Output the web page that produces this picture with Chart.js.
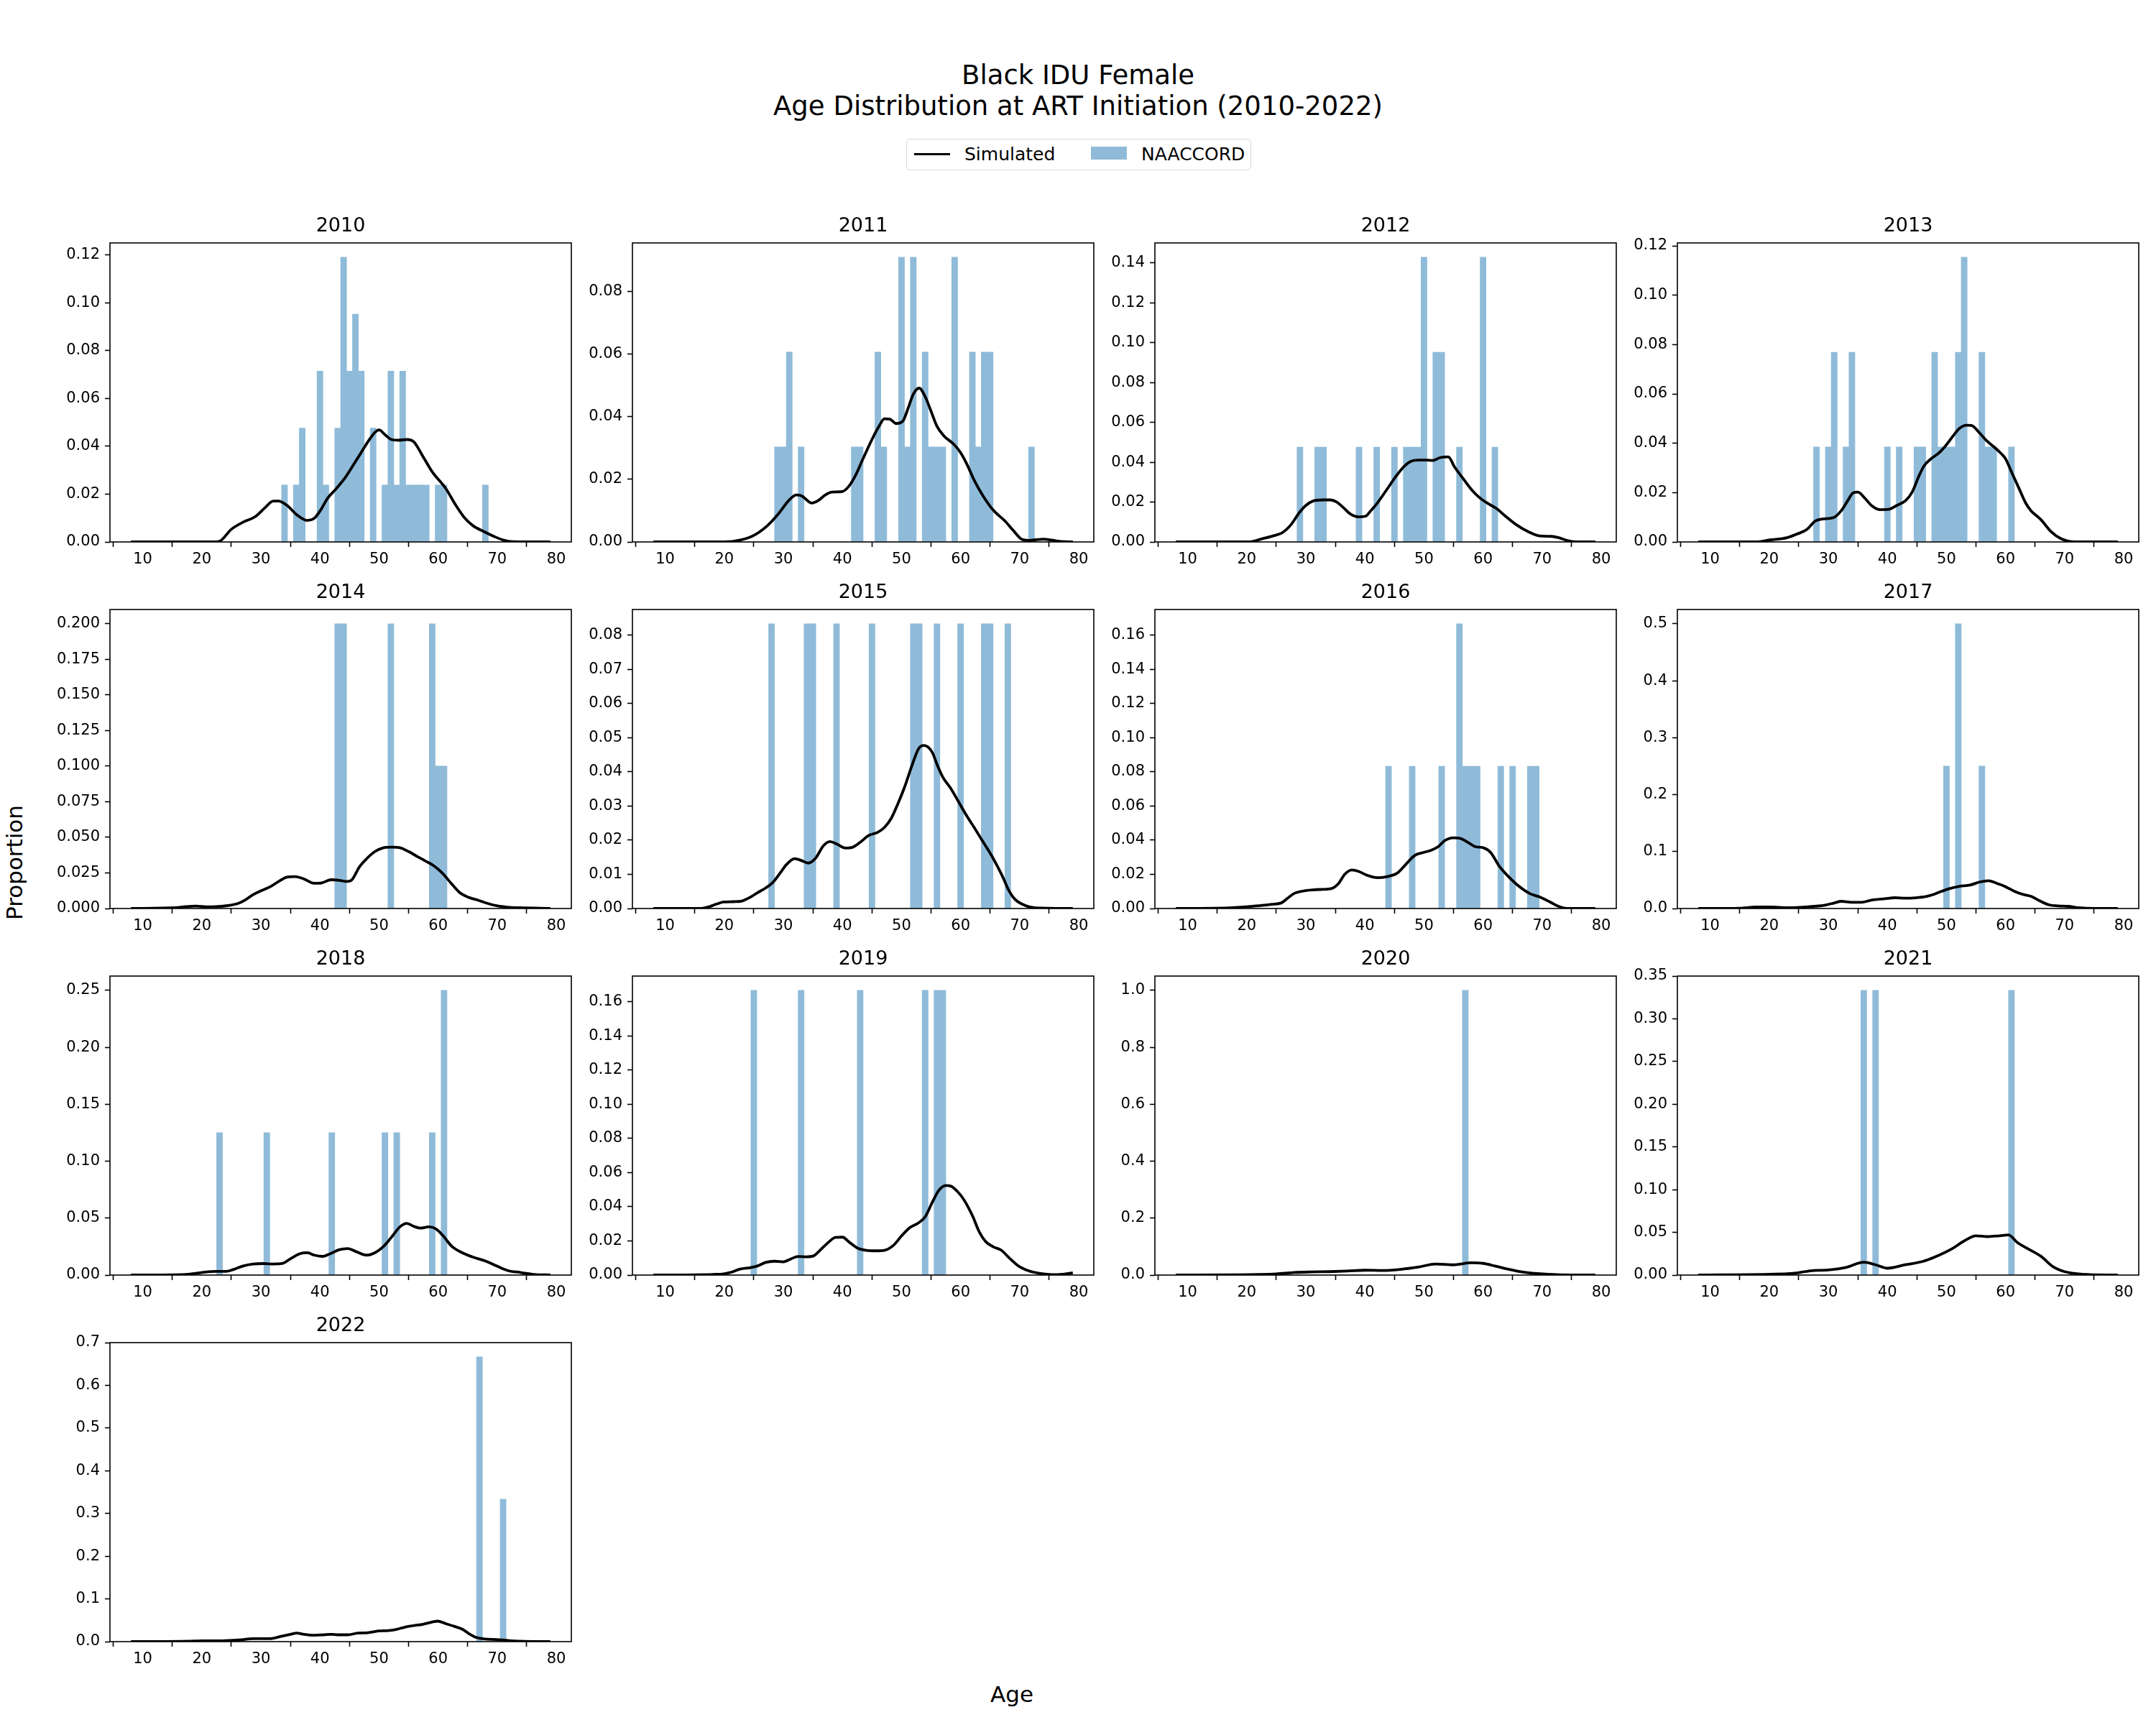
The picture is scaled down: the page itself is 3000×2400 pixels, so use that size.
<!DOCTYPE html>
<html>
<head>
<meta charset="utf-8">
<script src="https://cdn.jsdelivr.net/npm/chart.js@4.4.1/dist/chart.umd.min.js"></script>
<style>
  body { margin: 0; background: #fff; }
  #fig {
    position: relative; width: 3000px; height: 2400px; background: #fff;
    font-family: "DejaVu Sans", sans-serif; color: #000; overflow: hidden;
  }
  #fig canvas { position: absolute; }
  .suptitle {
    position: absolute; left: 0; top: 83px; width: 3000px;
    text-align: center; font-size: 37px; line-height: 43px;
  }
  .legend {
    position: absolute; left: 1261px; top: 193px; width: 480px; height: 44px;
    box-sizing: border-box; border: 1.5px solid #d6d6d6; border-radius: 5px;
    font-size: 25px;
  }
  .legend .item { position: absolute; }
  .legend .txt { top: 0; line-height: 42px; white-space: nowrap; }
  .suplabel { position: absolute; font-size: 31px; white-space: nowrap; }
</style>
</head>
<body>
<div id="fig">
  <div class="suptitle">Black IDU Female<br>Age Distribution at ART Initiation (2010-2022)</div>
  <div class="legend">
    <div class="item" style="left:10px; top:18.5px; width:50px; height:3.6px; background:#000"></div>
    <div class="item txt" style="left:80px">Simulated</div>
    <div class="item" style="left:256px; top:10px; width:50px; height:18px; background:#8fbbd9"></div>
    <div class="item txt" style="left:326px">NAACCORD</div>
  </div>
  <div class="suplabel" style="left:20px; top:1200px; transform: translate(-50%,-50%) rotate(-90deg)">Proportion</div>
  <div class="suplabel" style="left:1408px; top:2357px; transform: translate(-50%,-50%)">Age</div>
</div>
<script>
// ---- data ----
const years = [2010, 2011, 2012, 2013, 2014, 2015, 2016, 2017, 2018, 2019, 2020, 2021, 2022];

// NAACCORD histogram: [age, proportion]
const naa2010 = [[34, 0.0238], [36, 0.0238], [37, 0.0476], [40, 0.0714], [41, 0.0238], [43, 0.0476], [44, 0.119], [45, 0.0714], [46, 0.0952], [47, 0.0714], [49, 0.0476], [51, 0.0238], [52, 0.0714], [53, 0.0238], [54, 0.0714], [55, 0.0238], [56, 0.0238], [57, 0.0238], [58, 0.0238], [60, 0.0238], [61, 0.0238], [68, 0.0238]];
const naa2011 = [[29, 0.0303], [30, 0.0303], [31, 0.0606], [33, 0.0303], [42, 0.0303], [43, 0.0303], [46, 0.0606], [47, 0.0303], [50, 0.0909], [51, 0.0303], [52, 0.0909], [54, 0.0606], [55, 0.0303], [56, 0.0303], [57, 0.0303], [59, 0.0909], [62, 0.0606], [63, 0.0303], [64, 0.0606], [65, 0.0606], [72, 0.0303]];
const naa2012 = [[29, 0.0476], [32, 0.0476], [33, 0.0476], [39, 0.0476], [42, 0.0476], [45, 0.0476], [47, 0.0476], [48, 0.0476], [49, 0.0476], [50, 0.1429], [52, 0.0952], [53, 0.0952], [56, 0.0476], [60, 0.1429], [62, 0.0476]];
const naa2013 = [[28, 0.0385], [30, 0.0385], [31, 0.0769], [33, 0.0385], [34, 0.0769], [40, 0.0385], [42, 0.0385], [45, 0.0385], [46, 0.0385], [48, 0.0769], [49, 0.0385], [50, 0.0385], [51, 0.0385], [52, 0.0769], [53, 0.1154], [56, 0.0769], [57, 0.0385], [58, 0.0385], [61, 0.0385]];
const naa2014 = [[43, 0.2], [44, 0.2], [52, 0.2], [59, 0.2], [60, 0.1], [61, 0.1]];
const naa2015 = [[28, 0.0833], [34, 0.0833], [35, 0.0833], [39, 0.0833], [45, 0.0833], [52, 0.0833], [53, 0.0833], [56, 0.0833], [60, 0.0833], [64, 0.0833], [65, 0.0833], [68, 0.0833]];
const naa2016 = [[44, 0.0833], [48, 0.0833], [53, 0.0833], [56, 0.1667], [57, 0.0833], [58, 0.0833], [59, 0.0833], [63, 0.0833], [65, 0.0833], [68, 0.0833], [69, 0.0833]];
const naa2017 = [[50, 0.25], [52, 0.5], [56, 0.25]];
const naa2018 = [[23, 0.125], [31, 0.125], [42, 0.125], [51, 0.125], [53, 0.125], [59, 0.125], [61, 0.25]];
const naa2019 = [[25, 0.1667], [33, 0.1667], [43, 0.1667], [54, 0.1667], [56, 0.1667], [57, 0.1667]];
const naa2020 = [[57, 1.0]];
const naa2021 = [[36, 0.3333], [38, 0.3333], [61, 0.3333]];
const naa2022 = [[67, 0.6667], [71, 0.3333]];

// Simulated density curve: [age, density]
const sim2010 = [[8, 0], [22, 0], [23, 0.0003], [25, 0.0053], [27, 0.0083], [29, 0.0105], [30.7, 0.0143], [32.1, 0.0171], [33, 0.0171], [34.4, 0.0153], [36.1, 0.0113], [37.8, 0.009], [39, 0.0098], [40.1, 0.0133], [41.3, 0.0183], [42.4, 0.0213], [44.1, 0.0263], [45.3, 0.0308], [46.7, 0.0363], [48.1, 0.0418], [49.3, 0.0458], [50, 0.0468], [51, 0.0448], [52.1, 0.0428], [53.3, 0.0425], [54.7, 0.0428], [55.9, 0.0418], [57.3, 0.0363], [59, 0.0293], [61.3, 0.0223], [63, 0.0153], [64.4, 0.0103], [65.9, 0.0068], [67.6, 0.0045], [69.3, 0.0025], [71, 0.0008], [72.7, 0.0001], [79, 0]];
const sim2011 = [[8, 0], [20, 0], [22.7, 0.0006], [25, 0.0021], [27.3, 0.0052], [29, 0.0086], [31.1, 0.0136], [32.2, 0.015], [33.1, 0.0147], [34.8, 0.0124], [35.9, 0.0132], [37.1, 0.015], [38.2, 0.0159], [40, 0.0161], [41.1, 0.0178], [42.2, 0.0212], [43.4, 0.0262], [45.1, 0.0331], [46.3, 0.0373], [47.1, 0.0393], [48, 0.0392], [49.1, 0.0378], [50.2, 0.0385], [51.1, 0.0426], [52, 0.0472], [53, 0.0491], [54, 0.0464], [55.2, 0.0407], [56, 0.0369], [57.2, 0.0338], [58.9, 0.0311], [60, 0.0285], [61.2, 0.0243], [62.3, 0.0197], [63.8, 0.0147], [65.5, 0.0102], [67.5, 0.0067], [68.9, 0.0037], [70.4, 0.0008], [71.5, 0.0005], [74.1, 0.0009], [76.7, 0.0002], [79, 0]];
const sim2012 = [[8, 0], [20.3, 0], [22.6, 0.0016], [24.9, 0.0034], [26, 0.0046], [27.5, 0.0087], [28.9, 0.0147], [30, 0.0183], [31.2, 0.0205], [32.9, 0.0211], [34.1, 0.0211], [35.2, 0.0201], [36.4, 0.0171], [37.5, 0.0141], [38.9, 0.0126], [40.1, 0.0129], [40.9, 0.0153], [42.1, 0.0195], [43.8, 0.0267], [45.2, 0.0327], [46.7, 0.0381], [47.8, 0.0405], [49, 0.0411], [50.4, 0.0411], [51.5, 0.0409], [52.7, 0.0423], [54.1, 0.0427], [55.2, 0.0375], [56.7, 0.0315], [58.1, 0.0261], [59.3, 0.0225], [60.7, 0.0195], [62.4, 0.0165], [63.8, 0.0129], [65.6, 0.0087], [67.6, 0.0052], [69.6, 0.003], [71.6, 0.0028], [72.7, 0.0022], [74.4, 0.0006], [75.9, 0], [79, 0]];
const sim2013 = [[8, 0], [17.8, 0], [20.1, 0.0008], [23, 0.0017], [24.7, 0.0032], [26.4, 0.0051], [27.8, 0.0085], [29, 0.0093], [31, 0.01], [32.2, 0.0127], [33.3, 0.0168], [34.2, 0.0199], [35, 0.0202], [36.2, 0.0177], [37.3, 0.0148], [38.7, 0.0131], [40.2, 0.0132], [41.6, 0.0148], [43.1, 0.0168], [44.2, 0.0202], [45.3, 0.0265], [46.2, 0.0308], [47.4, 0.0337], [48.8, 0.0362], [49.9, 0.0391], [51.1, 0.0429], [52.2, 0.046], [53.4, 0.0473], [54.2, 0.0472], [55.7, 0.0439], [56.8, 0.041], [58, 0.0386], [59.1, 0.0362], [60, 0.0337], [61.1, 0.0279], [62.3, 0.0216], [63.4, 0.0158], [64.3, 0.0127], [66, 0.009], [67.7, 0.0042], [69.4, 0.0013], [71.7, 0], [79, 0]];
const sim2014 = [[8, 0], [15.5, 0.0005], [17.3, 0.0013], [19, 0.0017], [20.7, 0.0012], [22.4, 0.0013], [24.7, 0.0022], [26.1, 0.0035], [27.3, 0.0059], [28.7, 0.0098], [30.1, 0.0126], [31.6, 0.0153], [33, 0.019], [34.4, 0.022], [35.8, 0.0224], [37.3, 0.0207], [39, 0.0177], [40.1, 0.0178], [41.9, 0.0202], [43.3, 0.0198], [44.4, 0.019], [45.3, 0.0198], [46.7, 0.0294], [48.1, 0.0358], [49.3, 0.04], [50.7, 0.0426], [52.1, 0.0431], [53.6, 0.0426], [55, 0.04], [56.4, 0.0367], [57.9, 0.0333], [59.3, 0.0299], [60.7, 0.0249], [62.1, 0.0182], [63.6, 0.0114], [65, 0.0081], [66.7, 0.0059], [68.1, 0.0039], [69.9, 0.0019], [71.6, 0.001], [73.9, 0.0005], [79, 0]];
const sim2015 = [[8, 0], [15.9, 0], [17.6, 0.0006], [18.7, 0.0013], [19.9, 0.0019], [21.6, 0.002], [23, 0.0022], [24.5, 0.0034], [25.6, 0.0046], [27, 0.006], [28.2, 0.0076], [29.3, 0.01], [30.5, 0.0128], [31.9, 0.0146], [33.1, 0.014], [34.2, 0.0133], [35.4, 0.0146], [36.8, 0.0184], [37.9, 0.0196], [39.1, 0.0188], [40.5, 0.0177], [41.7, 0.0179], [43.1, 0.0195], [44.5, 0.0214], [46, 0.0223], [47.1, 0.0237], [48.3, 0.0265], [49.4, 0.0307], [50.6, 0.0359], [51.7, 0.0415], [52.9, 0.0468], [53.8, 0.0477], [55.2, 0.0457], [56, 0.0422], [57, 0.0384], [58.3, 0.0352], [59.5, 0.0317], [60.9, 0.0275], [62.3, 0.0237], [63.8, 0.0195], [65.2, 0.0156], [66.3, 0.0121], [67.2, 0.009], [68.1, 0.0055], [69.2, 0.0027], [70.9, 0.0009], [72.7, 0.0002], [79, 0]];
const sim2016 = [[8, 0], [16.9, 0.0004], [18.6, 0.0007], [20.3, 0.0011], [22.6, 0.0018], [24.3, 0.0025], [25.8, 0.0032], [26.9, 0.006], [28, 0.0088], [29.5, 0.0102], [31.2, 0.0109], [32.9, 0.0112], [34.3, 0.0116], [35.5, 0.0145], [36.6, 0.0201], [37.8, 0.0226], [38.9, 0.0218], [40.4, 0.0194], [42.1, 0.018], [43.8, 0.0187], [45.5, 0.0208], [46.9, 0.0257], [48.4, 0.031], [49.8, 0.0327], [51.2, 0.0341], [52.4, 0.0362], [53.5, 0.0397], [55, 0.0414], [56.1, 0.0411], [57.3, 0.039], [58.7, 0.0362], [60.1, 0.0355], [61.3, 0.0327], [62.7, 0.025], [64.1, 0.0194], [65.8, 0.0138], [67.9, 0.0088], [69.6, 0.0067], [71.3, 0.0039], [72.7, 0.0014], [74.4, 0], [79, 0]];
const sim2017 = [[8, 0], [15, 0.0005], [17.8, 0.0025], [20.1, 0.0025], [23, 0.0013], [25.3, 0.0021], [27.6, 0.0038], [29.6, 0.0063], [31, 0.0097], [32.2, 0.0126], [33.9, 0.0109], [35.6, 0.0109], [37.3, 0.0147], [39.6, 0.0172], [41.3, 0.0189], [43.1, 0.0181], [44.8, 0.0189], [46.5, 0.021], [47.6, 0.024], [49.1, 0.0299], [50.5, 0.0349], [52.2, 0.0391], [54, 0.0412], [55.7, 0.0467], [57.1, 0.0488], [58.5, 0.0442], [60, 0.0383], [61.4, 0.0307], [62.8, 0.0252], [64.3, 0.0214], [65.7, 0.0139], [67.4, 0.0063], [68.9, 0.0046], [70.6, 0.0038], [72.3, 0.0013], [75.2, 0], [79, 0]];
const sim2018 = [[8, 0], [17.3, 0.0006], [20.1, 0.0023], [22.4, 0.0032], [24.1, 0.0032], [25.3, 0.0048], [27, 0.008], [28.7, 0.0097], [30.4, 0.0101], [32.1, 0.0097], [33.6, 0.0101], [35, 0.0143], [36.7, 0.0189], [37.9, 0.0196], [39, 0.0175], [40.4, 0.0164], [41.9, 0.0191], [43.3, 0.0223], [44.7, 0.0233], [46.1, 0.0206], [47.9, 0.0175], [49.3, 0.0196], [50.7, 0.0248], [52.1, 0.0332], [53.6, 0.0427], [54.7, 0.0454], [55.9, 0.0427], [57, 0.0412], [58.4, 0.0423], [59.6, 0.0406], [60.7, 0.0353], [62.4, 0.0248], [64.1, 0.0196], [65.9, 0.0158], [68.1, 0.0122], [69.9, 0.008], [71.9, 0.0038], [73.9, 0.0023], [76.2, 0.0006], [79, 0]];
const sim2019 = [[8, 0], [18.1, 0.0004], [19.9, 0.0007], [21.3, 0.0018], [22.7, 0.0035], [24.5, 0.0044], [25.6, 0.0053], [27, 0.0074], [28.5, 0.0081], [29.9, 0.0077], [31.3, 0.0095], [32.5, 0.0109], [33.9, 0.0107], [35.1, 0.0112], [36.2, 0.0145], [37.7, 0.0194], [38.8, 0.022], [40, 0.0222], [41.1, 0.0194], [42.5, 0.0159], [44, 0.0145], [45.7, 0.0142], [47.1, 0.0145], [48.6, 0.0173], [50, 0.0229], [51.4, 0.0278], [52.9, 0.0306], [54, 0.0341], [55.2, 0.0425], [56.3, 0.0495], [57.5, 0.0524], [58.3, 0.0521], [59.5, 0.0488], [60.6, 0.0439], [62, 0.0348], [63.2, 0.025], [64.3, 0.0194], [65.5, 0.0166], [66.9, 0.0145], [68.1, 0.0105], [69.8, 0.0053], [71.5, 0.0025], [73.2, 0.0011], [75, 0.0004], [76.1, 0.0003], [77.8, 0.0007], [79, 0.0013]];
const sim2020 = [[8, 0], [18, 0.001], [22, 0.002], [25, 0.004], [28, 0.009], [31, 0.011], [34, 0.012], [37, 0.014], [40, 0.017], [43, 0.016], [46, 0.02], [49, 0.028], [52, 0.039], [55, 0.036], [58, 0.043], [60, 0.041], [62, 0.032], [64, 0.022], [66, 0.013], [68, 0.007], [70, 0.004], [73, 0.001], [79, 0]];
const sim2021 = [[8, 0], [20, 0.001], [24, 0.002], [27, 0.005], [30, 0.006], [33, 0.009], [36, 0.015], [38, 0.012], [40, 0.008], [43, 0.012], [46, 0.016], [48, 0.021], [51, 0.031], [53, 0.04], [55, 0.046], [57, 0.045], [59, 0.046], [60.5, 0.047], [62, 0.038], [64, 0.03], [66, 0.022], [68, 0.01], [70, 0.004], [73, 0.001], [79, 0]];
const sim2022 = [[8, 0], [17.8, 0.001], [20.1, 0.002], [23.5, 0.002], [26.4, 0.004], [28.7, 0.007], [31.6, 0.007], [33.3, 0.012], [35, 0.017], [36.1, 0.02], [37.3, 0.017], [39, 0.015], [40.7, 0.016], [41.9, 0.017], [43, 0.016], [44.7, 0.016], [46.4, 0.02], [48.1, 0.021], [49.9, 0.025], [51.6, 0.026], [52.7, 0.028], [54.4, 0.034], [56.1, 0.038], [57.3, 0.04], [58.4, 0.044], [59.9, 0.048], [61.3, 0.042], [62.7, 0.036], [64.1, 0.029], [65.3, 0.018], [66.4, 0.01], [67.9, 0.006], [69.9, 0.005], [71.6, 0.003], [73.9, 0.001], [79, 0]];

const naaByYear = [naa2010, naa2011, naa2012, naa2013, naa2014, naa2015, naa2016, naa2017, naa2018, naa2019, naa2020, naa2021, naa2022];
const simByYear = [sim2010, sim2011, sim2012, sim2013, sim2014, sim2015, sim2016, sim2017, sim2018, sim2019, sim2020, sim2021, sim2022];

// axis ticks
const ageTicks = [10, 20, 30, 40, 50, 60, 70, 80];
const yStep = [0.02, 0.02, 0.02, 0.02, 0.025, 0.01, 0.02, 0.1, 0.05, 0.02, 0.2, 0.05, 0.1];
const yDigits = [2, 2, 2, 2, 3, 2, 2, 1, 2, 2, 1, 2, 1];
const ageMin = 4.45, ageMax = 82.55;

// ---- layout (px) ----
const FONT = '"DejaVu Sans", sans-serif';
const AX_W = 642, AX_H = 416;      // axes box
const Y_W = 110, X_H = 50, T_H = 40, R_PAD = 4;
const colLeft = [153, 880, 1607, 2334];
const rowTop = [338, 848, 1358, 1868];
const BAR_COLOR = '#8fbbd9';       // tab:blue at alpha 0.5 on white

// box around the axes, drawn over the marks like matplotlib spines
const framePlugin = {
  id: 'frame',
  afterDatasetsDraw(chart) {
    const { ctx, chartArea: a } = chart;
    ctx.save();
    ctx.strokeStyle = '#000';
    ctx.lineWidth = 1.6;
    ctx.strokeRect(a.left, a.top, a.right - a.left, a.bottom - a.top);
    ctx.restore();
  },
};

const fig = document.getElementById('fig');

years.forEach((year, i) => {
  const col = i % 4;
  const row = Math.floor(i / 4);
  const canvas = document.createElement('canvas');
  canvas.width = Y_W + AX_W + R_PAD;
  canvas.height = T_H + AX_H + X_H;
  canvas.style.left = (colLeft[col] - Y_W) + 'px';
  canvas.style.top = (rowTop[row] - T_H) + 'px';
  fig.appendChild(canvas);

  const bars = naaByYear[i];
  let yMax = Math.max(...bars.map((d) => d[1])) * 1.05;
  const yTicks = [];
  for (let k = 0; k * yStep[i] <= yMax + yStep[i] * 0.01; k++) yTicks.push(+(k * yStep[i]).toFixed(6));
  yMax = Math.max(yMax, yTicks[yTicks.length - 1]);

  const tickFont = { family: FONT, size: 21 };

  const chart = new Chart(canvas, {
    type: 'line',
    data: {
      datasets: [
        {
          type: 'line',
          label: 'Simulated',
          data: simByYear[i].map(([x, y]) => ({ x, y })),
          borderColor: '#000',
          borderWidth: 3.8,
          pointRadius: 0,
          cubicInterpolationMode: 'monotone',
          fill: false,
          order: 0,
        },
        {
          type: 'bar',
          label: 'NAACCORD',
          data: bars.map(([x, y]) => ({ x, y })),
          backgroundColor: BAR_COLOR,
          borderWidth: 0,
          barPercentage: 1,
          categoryPercentage: 1,
          order: 1,
        },
      ],
    },
    options: {
      responsive: false,
      animation: false,
      devicePixelRatio: 1,
      events: [],
      layout: { padding: { right: R_PAD } },
      scales: {
        x: {
          type: 'linear',
          min: ageMin,
          max: ageMax,
          offset: false,
          bounds: 'data',
          afterBuildTicks: (s) => { s.ticks = ageTicks.map((v) => ({ value: v })); },
          afterFit: (s) => { s.height = X_H; },
          ticks: {
            callback: (v) => String(v),
            font: tickFont, color: '#000', padding: 5,
            autoSkip: false, maxRotation: 0,
          },
          grid: {
            drawOnChartArea: false, drawTicks: true,
            tickLength: 7, tickWidth: 1.6, tickColor: '#000',
          },
          border: { display: false },
        },
        y: {
          type: 'linear',
          min: 0,
          max: yMax,
          bounds: 'data',
          afterBuildTicks: (s) => { s.ticks = yTicks.map((v) => ({ value: v })); },
          afterFit: (s) => { s.width = Y_W; },
          ticks: {
            callback: (v) => Number(v).toFixed(yDigits[i]),
            font: tickFont, color: '#000', padding: 7,
          },
          grid: {
            drawOnChartArea: false, drawTicks: true,
            tickLength: 7, tickWidth: 1.6, tickColor: '#000',
          },
          border: { display: false },
        },
      },
      plugins: {
        legend: { display: false },
        tooltip: { enabled: false },
        title: {
          display: true,
          text: String(year),
          fullSize: false,
          color: '#000',
          font: { family: FONT, size: 27, weight: 'normal', lineHeight: '30px' },
          padding: { top: 2, bottom: 8 },
        },
      },
    },
    plugins: [framePlugin],
  });

  // one age per bar: make the bar exactly one year wide
  const sx = chart.scales.x;
  chart.data.datasets[1].barThickness = sx.getPixelForValue(1) - sx.getPixelForValue(0);
  chart.update();
});
</script>
</body>
</html>
